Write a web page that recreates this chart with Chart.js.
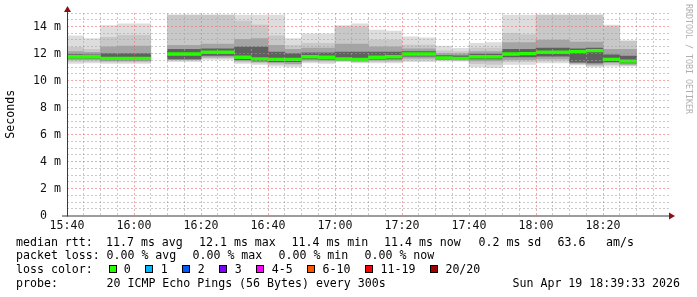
<!DOCTYPE html>
<html>
<head>
<meta charset="utf-8">
<script src="https://cdn.jsdelivr.net/npm/chart.js@4/dist/chart.umd.min.js"></script>
<style>
  body { margin: 0; background: #fff; }
  #wrap { position: relative; width: 697px; height: 297px; overflow: hidden; }
  canvas { position: absolute; left: 0; top: 0; }
  .t { position: absolute; font: 11.6px 'DejaVu Sans Mono', monospace; line-height: 14px; white-space: pre; color: #000; }
  .wm { position: absolute; left: 684px; top: 4px; writing-mode: vertical-rl; font: 8.3px 'DejaVu Sans Mono', monospace; color: #b0b0b0; white-space: pre; }
  .legend { position: absolute; left: 108.5px; top: 262px; display: flex; align-items: center; height: 14px; font: 11.6px 'DejaVu Sans Mono', monospace; white-space: pre; }
  .legend .sq { width: 6px; height: 6px; border: 1px solid #000; margin-right: 7.3px; }
  .legend .lb { margin-right: 14.7px; }
</style>
</head>
<body>
<div id="wrap">
  <canvas id="chart" width="697" height="297"></canvas>
  <div class="wm">RRDTOOL / TOBI OETIKER</div>

  <div class="t" style="top:234.5px; left:16px">median rtt:</div>
  <div class="t" style="top:234.5px; left:106px">11.7 ms avg</div>
  <div class="t" style="top:234.5px; left:199px">12.1 ms max</div>
  <div class="t" style="top:234.5px; left:291.5px">11.4 ms min</div>
  <div class="t" style="top:234.5px; left:384px">11.4 ms now</div>
  <div class="t" style="top:234.5px; left:478.5px">0.2 ms sd</div>
  <div class="t" style="top:234.5px; left:557.5px">63.6</div>
  <div class="t" style="top:234.5px; left:606px">am/s</div>

  <div class="t" style="top:248px; left:16px">packet loss:</div>
  <div class="t" style="top:248px; left:106.5px">0.00 % avg</div>
  <div class="t" style="top:248px; left:192.5px">0.00 % max</div>
  <div class="t" style="top:248px; left:278.5px">0.00 % min</div>
  <div class="t" style="top:248px; left:364.5px">0.00 % now</div>

  <div class="t" style="top:262px; left:16px">loss color:</div>
  <div class="legend" id="legend"></div>

  <div class="t" style="top:275.5px; left:16px">probe:</div>
  <div class="t" style="top:275.5px; left:106.5px">20 ICMP Echo Pings (56 Bytes) every 300s</div>
  <div class="t" style="top:275.5px; left:512.5px">Sun Apr 19 18:39:33 2026</div>
</div>
<script>
// 5 minute slots (16:05 has no data)
const slotTimes = ['15:40', '15:45', '15:50', '15:55', '16:00',
    '16:10', '16:15', '16:20', '16:25', '16:30', '16:35', '16:40', '16:45', '16:50', '16:55',
    '17:00', '17:05', '17:10', '17:15', '17:20', '17:25', '17:30', '17:35', '17:40', '17:45',
    '17:50', '17:55', '18:00', '18:05', '18:10', '18:15', '18:20', '18:25'];

// round trip times in ms (sorted ping spread per slot)
const rttMax = [13.30, 13.10, 14.06, 14.19, 14.19, 14.85, 14.85, 14.85, 14.85, 14.85, 14.85, 14.85, 13.10, 13.45, 13.45,
    14.06, 14.19, 13.74, 13.67, 13.24, 13.17, 12.55, 12.38, 12.75, 12.80, 14.85, 14.85, 14.85, 14.85, 14.85, 14.85, 14.10, 12.95];
const rttP90 = [12.45, 12.30, 13.20, 13.35, 13.35, 14.85, 14.85, 14.85, 14.85, 14.40, 14.10, 13.30, 12.60, 12.75, 12.75,
    14.00, 14.00, 13.00, 13.00, 12.63, 12.63, 12.20, 12.15, 12.40, 12.40, 13.50, 13.40, 14.85, 14.85, 14.85, 14.85, 14.00, 12.90];
const rttP75 = [12.15, 12.08, 12.50, 12.55, 12.55, 12.60, 12.60, 12.70, 12.70, 13.05, 13.10, 12.60, 12.30, 12.40, 12.40,
    12.70, 12.70, 12.50, 12.50, 12.35, 12.35, 12.00, 11.98, 12.15, 12.15, 12.80, 12.80, 13.00, 13.00, 12.85, 12.85, 12.30, 12.30];
const rttP60 = [11.92, 11.90, 12.00, 12.00, 12.00, 12.30, 12.30, 12.35, 12.35, 12.50, 12.50, 12.10, 12.00, 12.05, 12.05,
    12.10, 12.10, 12.10, 12.10, 12.15, 12.15, 11.85, 11.82, 11.95, 11.95, 12.30, 12.30, 12.40, 12.40, 12.35, 12.40, 11.90, 11.80];
const rttMedian = [11.76, 11.76, 11.64, 11.64, 11.64, 11.96, 11.96, 12.09, 12.09, 11.72, 11.60, 11.57, 11.57, 11.76, 11.72,
    11.60, 11.57, 11.72, 11.76, 11.96, 11.96, 11.67, 11.64, 11.76, 11.76, 11.96, 11.99, 12.09, 12.09, 12.14, 12.21, 11.57, 11.44];
const rttP40 = [11.66, 11.66, 11.52, 11.52, 11.52, 11.60, 11.60, 11.85, 11.85, 11.55, 11.45, 11.40, 11.40, 11.60, 11.58,
    11.52, 11.48, 11.58, 11.60, 11.80, 11.80, 11.58, 11.56, 11.60, 11.60, 11.75, 11.75, 11.80, 11.80, 11.35, 11.30, 11.40, 11.30];
const rttP25 = [11.55, 11.55, 11.45, 11.45, 11.45, 11.55, 11.55, 11.72, 11.72, 11.45, 11.38, 11.30, 11.25, 11.50, 11.48,
    11.48, 11.42, 11.50, 11.50, 11.65, 11.65, 11.54, 11.52, 11.45, 11.45, 11.55, 11.55, 11.60, 11.60, 11.28, 11.20, 11.30, 11.20];
const rttP10 = [11.42, 11.42, 11.38, 11.38, 11.38, 11.50, 11.50, 11.65, 11.65, 11.38, 11.30, 11.20, 11.15, 11.40, 11.38,
    11.45, 11.38, 11.40, 11.40, 11.50, 11.50, 11.50, 11.48, 11.25, 11.20, 11.40, 11.40, 11.45, 11.45, 11.22, 11.10, 11.18, 11.12];
const rttMin = [11.27, 11.30, 11.27, 11.27, 11.27, 11.40, 11.40, 11.57, 11.57, 11.27, 11.20, 11.07, 11.00, 11.30, 11.27,
    11.40, 11.30, 11.30, 11.30, 11.40, 11.40, 11.44, 11.44, 11.00, 10.95, 11.20, 11.20, 11.30, 11.30, 11.15, 11.00, 11.07, 11.07];

const timeTickLabels = ['15:40', '16:00', '16:20', '16:40', '17:00', '17:20', '17:40', '18:00', '18:20'];
const yTickLabels = ['0  ', '2 m', '4 m', '6 m', '8 m', '10 m', '12 m', '14 m'];

const lossLabels = ['0', '1', '2', '3', '4-5', '6-10', '11-19', '20/20'];
const lossColors = ['#26ff00', '#00b8ff', '#0059ff', '#7e00ff', '#ff00ff', '#ff5500', '#ff0000', '#a10000'];

const legend = document.getElementById('legend');
lossLabels.forEach((l, i) => {
    legend.insertAdjacentHTML('beforeend',
        `<span class="sq" style="background:${lossColors[i]}"></span><span class="lb">${l}</span>`);
});

function toMin(t) {
    const [h, m] = t.split(':').map(Number);
    return h * 60 + m - (15 * 60 + 40);
}

function band(lo, hi) {
    return slotTimes.map((t, i) => ({ x: toMin(t) + 2.5, y: [lo[i], hi[i]] }));
}

const monoFont = { family: "'DejaVu Sans Mono', monospace", size: 11.6 };
const minorGrid = 'rgba(165,165,165,0.6)';
const majorGrid = 'rgba(230,110,110,0.6)';

const axesPlugin = {
    id: 'axes',
    afterDraw(chart) {
        const { ctx, chartArea: a } = chart;
        ctx.save();
        ctx.strokeStyle = '#3a3a3a';
        ctx.lineWidth = 1;
        ctx.beginPath();
        ctx.moveTo(a.left + 0.5, a.bottom + 1);
        ctx.lineTo(a.left + 0.5, a.top - 4);
        ctx.moveTo(a.left - 5, a.bottom + 0.5);
        ctx.lineTo(a.right + 1, a.bottom + 0.5);
        ctx.stroke();
        ctx.fillStyle = '#8b1010';
        ctx.beginPath();
        ctx.moveTo(a.left - 3, a.top - 1);
        ctx.lineTo(a.left + 4, a.top - 1);
        ctx.lineTo(a.left + 0.5, a.top - 7);
        ctx.closePath();
        ctx.fill();
        ctx.beginPath();
        ctx.moveTo(a.right - 1, a.bottom - 3);
        ctx.lineTo(a.right - 1, a.bottom + 4);
        ctx.lineTo(a.right + 5, a.bottom + 0.5);
        ctx.closePath();
        ctx.fill();
        ctx.restore();
    }
};

new Chart(document.getElementById('chart'), {
    type: 'bar',
    data: {
        datasets: [
            { data: slotTimes.map((t, i) => ({ x: toMin(t) + 2.5, y: [rttMedian[i] - 0.1, rttMedian[i] + 0.1] })), backgroundColor: '#26ff00', order: 0 },
            { data: band(rttP40, rttP60), backgroundColor: '#606060', order: 1 },
            { data: band(rttP25, rttP75), backgroundColor: '#a4a4a4', order: 2 },
            { data: band(rttP10, rttP90), backgroundColor: '#c8c8c8', order: 3 },
            { data: band(rttMin, rttMax), backgroundColor: '#dddddd', order: 4 }
        ]
    },
    options: {
        responsive: false,
        animation: false,
        devicePixelRatio: 1,
        layout: { padding: { top: 13, right: 27, bottom: 67, left: 0 } },
        datasets: {
            bar: { grouped: false, barPercentage: 1, categoryPercentage: 1, borderWidth: 0, borderSkipped: false }
        },
        plugins: { legend: { display: false }, tooltip: { enabled: false } },
        scales: {
            x: {
                type: 'linear',
                min: 0,
                max: 180,
                offset: false,
                grid: {
                    offset: false,
                    drawTicks: false,
                    z: 1,
                    color: c => (c.tick.value === 0 || c.tick.value === 180) ? 'rgba(0,0,0,0)'
                        : (c.tick.value % 20 === 0 ? majorGrid : minorGrid)
                },
                border: { display: false, dash: [2, 2] },
                ticks: {
                    stepSize: 5,
                    autoSkip: false,
                    maxRotation: 0,
                    padding: 4,
                    color: '#111',
                    font: monoFont,
                    callback: v => (v % 20 === 0 && timeTickLabels[v / 20]) ? timeTickLabels[v / 20] : ''
                },
                afterFit: s => { s.height = 14.5; }
            },
            y: {
                min: 0,
                max: 15,
                grid: {
                    drawTicks: false,
                    z: 1,
                    color: c => c.tick.value === 0 ? 'rgba(0,0,0,0)'
                        : (c.tick.value % 2 === 0 ? majorGrid : minorGrid)
                },
                border: { display: false, dash: [2, 2] },
                ticks: {
                    stepSize: 0.5,
                    autoSkip: false,
                    padding: 6,
                    color: '#111',
                    font: monoFont,
                    callback: v => v % 2 === 0 ? yTickLabels[v / 2] : ''
                },
                title: { display: true, text: 'Seconds', color: '#000', font: monoFont, padding: { top: 4, bottom: 0 } },
                afterFit: s => { s.width = 67; }
            }
        }
    },
    plugins: [axesPlugin]
});
</script>
</body>
</html>
